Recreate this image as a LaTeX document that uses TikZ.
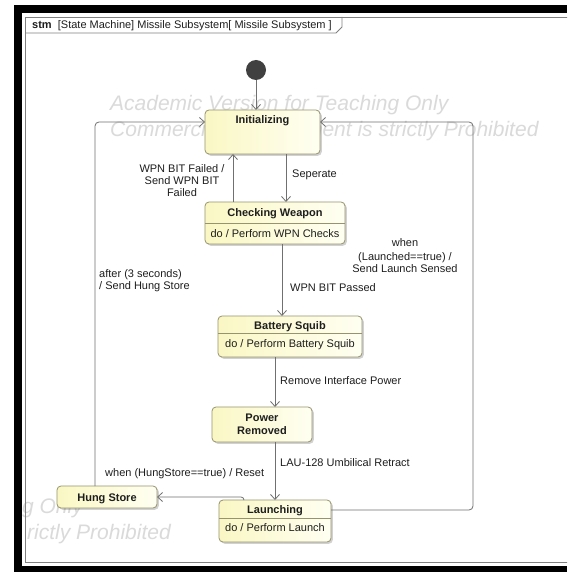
\documentclass[tikz,border=0pt]{standalone}
\usepackage{fontspec}
\setmainfont{Liberation Sans}
\usetikzlibrary{arrows.meta,shadows}
\definecolor{boxc}{RGB}{150,148,110}
\definecolor{yf1}{RGB}{250,247,196}
\definecolor{yf2}{RGB}{255,255,242}
\definecolor{edgec}{RGB}{112,112,112}
\definecolor{framec}{RGB}{128,128,128}
\definecolor{wmc}{RGB}{218,218,218}
\definecolor{txtc}{RGB}{30,30,30}
\definecolor{dotc}{RGB}{64,64,64}
\begin{document}
\begin{tikzpicture}[x=1pt,y=-1pt,
  stbox/.style={draw=boxc, line width=0.8pt, rounded corners=4pt, left color=yf1, right color=yf2,
    drop shadow={shadow xshift=1.8pt, shadow yshift=-1.8pt, fill=black, opacity=0.18},
    inner sep=0pt, outer sep=0pt},
  ttl/.style={font=\fontsize{11}{13}\selectfont\bfseries, text=txtc, inner sep=0pt, anchor=base},
  body/.style={font=\fontsize{11}{13}\selectfont, text=txtc, inner sep=0pt, anchor=base},
  lbl/.style={font=\fontsize{11}{12}\selectfont, text=txtc, inner sep=0pt},
  edge/.style={draw=edgec, line width=0.8pt, -{Straight Barb[length=5pt,width=9pt]}},
  sepline/.style={draw=boxc, line width=0.7pt},
  wm/.style={font=\fontsize{21}{26}\selectfont\itshape, text=wmc, inner sep=0pt, anchor=base west}
]
\useasboundingbox (0,0) rectangle (567,572);
\fill[white] (0,0) rectangle (567,572);
\fill[black] (14,5) rectangle (567,572);
\fill[white] (22,13) rectangle (567,566);

% watermark
\node[wm] (wm1) at (110,111) {Academic Version for Teaching Only};
\node[wm] (wm2) at (110,137) {Commercial Development is strictly Prohibited};
\node[wm, anchor=base east] (wm3) at (83,513) {g Only};
\node[wm, anchor=base east] (wm4) at (171,539) {rictly Prohibited};

\begin{scope}
\clip (22,13) rectangle (567,566);
\draw[framec, line width=0.8pt] (25,17) rectangle (590,562);
\draw[framec, line width=0.8pt] (25,33) -- (336,33) -- (342,27) -- (342,17);
\end{scope}
\node[anchor=base west, font=\fontsize{11}{13}\selectfont, text=txtc, inner sep=0pt] (hdr) at (32,29)
  {\textbf{stm}\ \ [State Machine] Missile Subsystem[ Missile Subsystem ]};

% initial pseudostate
\node[circle, fill=dotc, minimum size=20pt, inner sep=0pt] (start) at (256,70) {};

% states
\node[stbox, minimum width=115pt, minimum height=44pt] (ini) at (262.5,132) {};
\node[ttl] (iniT) at (262.5,124) {Initializing};

\node[stbox, minimum width=140pt, minimum height=42pt] (cw) at (275,223) {};
\draw[sepline] ([yshift=-21pt]cw.north west) -- ([yshift=-21pt]cw.north east);
\node[ttl] (cwT) at (275,216.5) {Checking Weapon};
\node[body] (cwB) at (275,237) {do / Perform WPN Checks};

\node[stbox, minimum width=144pt, minimum height=41pt] (bs) at (290,336.5) {};
\draw[sepline] ([yshift=-17pt]bs.north west) -- ([yshift=-17pt]bs.north east);
\node[ttl] (bsT) at (290,329) {Battery Squib};
\node[body] (bsB) at (290,347) {do / Perform Battery Squib};

\node[stbox, minimum width=100pt, minimum height=35pt] (pr) at (262,424.5) {};
\node[font=\fontsize{11}{13}\selectfont\bfseries, text=txtc, inner sep=0pt, align=center] (prT) at (262,424) {Power\\Removed};

\node[stbox, minimum width=100pt, minimum height=22pt] (hs) at (107,497) {};
\node[ttl] (hsT) at (107,501) {Hung Store};

\node[stbox, minimum width=112pt, minimum height=42pt] (la) at (275,521) {};
\draw[sepline] ([yshift=-18pt]la.north west) -- ([yshift=-18pt]la.north east);
\node[ttl] (laT) at (275,513) {Launching};
\node[body] (laB) at (275,531) {do / Perform Launch};

% connectors
\coordinate (ie) at ([yshift=10pt]ini.east);
\coordinate (iw) at ([yshift=10pt]ini.west);
\coordinate (rc) at (473,0);

\draw[edge] (start.south) -- (start.south |- ini.north);
\draw[edge] ([xshift=23.5pt]ini.south) -- ([xshift=23.5pt]ini.south |- cw.north);
\draw[edge] ([xshift=-42pt]cw.north) -- ([xshift=-42pt]cw.north |- ini.south);
\draw[edge] ([xshift=7pt]cw.south) -- ([xshift=7pt]cw.south |- bs.north);
\draw[edge] ([xshift=-15pt]bs.south) -- ([xshift=-15pt]bs.south |- pr.north);
\draw[edge] ([xshift=13pt]pr.south) -- (la.north);
\draw[edge, rounded corners=3pt] ([xshift=-31pt]la.north) |- (hs.east);
\draw[edge, rounded corners=4pt] ([xshift=-12pt]hs.north) |- (iw);
\draw[edge, rounded corners=4pt] ([yshift=11pt]la.east) -| (rc |- ie) -- (ie);

% labels
\node[lbl, anchor=base west] (l1) at (292,178) {Seperate};
\node[lbl, align=center] (l2) at (182,181) {WPN BIT Failed /\\Send WPN BIT\\Failed};
\node[lbl, anchor=base west] (l3) at (290,291) {WPN BIT Passed};
\node[lbl, anchor=base west] (l4) at (280,384) {Remove Interface Power};
\node[lbl, anchor=base west] (l5) at (280,466) {LAU-128 Umbilical Retract};
\node[lbl, anchor=base west] (l6) at (105,476) {when (HungStore==true) / Reset};
\node[lbl, align=left, anchor=west] (l7) at (99,280.5) {after (3 seconds)\\/ Send Hung Store};
\node[lbl, align=center] (l8) at (405,256) {when\\[2pt](Launched==true) /\\Send Launch Sensed};
\end{tikzpicture}
\end{document}
